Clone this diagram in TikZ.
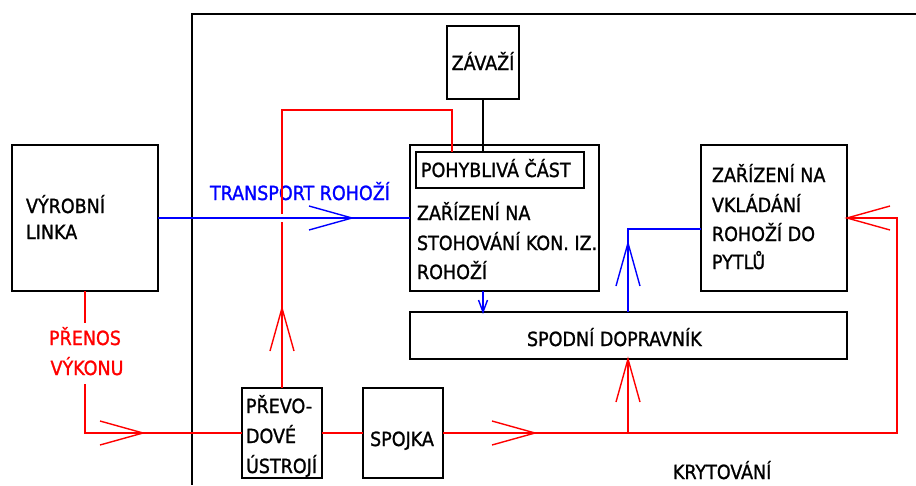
\documentclass[tikz,border=0pt]{standalone}
\usepackage{fontspec}
\setmainfont{DejaVu Sans Condensed}[FakeBold=1.2]
\begin{document}
\begin{tikzpicture}[x=1pt,y=-1pt,
 box/.style={draw=black,line width=1.6pt,inner sep=0pt,outer sep=0pt},
 txt/.style={inner sep=0pt,outer sep=0pt,font=\fontsize{19.5}{22}\selectfont,anchor=base west},
 rline/.style={red,line width=1.4pt},
 bline/.style={blue,line width=1.4pt},
 frame/.style={black,line width=1.6pt},
 chev/.pic={\draw (-43,-12) -- (0,0) -- (-43,12);},
 schev/.pic={\draw (-12,-4.5) -- (0,0) -- (-12,4.5);},
]
\useasboundingbox (0,0) rectangle (916,485);

% outer frame (krytovani)
\coordinate (f0) at (192,14);
\coordinate (f1) at (916,14);
\coordinate (f2) at (192,485);
\draw[frame] (f1) -- (f0) -- (f2);

% boxes
\node[box,minimum width=146pt,minimum height=146pt] (vl) at (85,218) {};
\node[box,minimum width=72pt,minimum height=73pt] (zav) at (483,62.5) {};
\node[box,minimum width=189pt,minimum height=146pt] (stoh) at (504.5,218) {};
\node[box,minimum width=168pt,minimum height=36pt] (poh) at (500,170) {};
\node[box,minimum width=146pt,minimum height=146pt] (vkl) at (774,218) {};
\node[box,minimum width=437pt,minimum height=47pt] (spod) at (628.5,335.5) {};
\node[box,minimum width=80pt,minimum height=90pt] (prev) at (282,433) {};
\node[box,minimum width=80pt,minimum height=90pt] (spoj) at (403,433) {};

% texts
\node[txt] (t1) at (26,213) {VÝROBNÍ};
\node[txt] (t2) at (26,239) {LINKA};
\node[txt,anchor=base] (t3) at (483,70) {ZÁVAŽÍ};
\node[txt] (t4) at (421,177) {POHYBLIVÁ ČÁST};
\node[txt] (t5) at (417,220) {ZAŘÍZENÍ NA};
\node[txt] (t6) at (417,250) {STOHOVÁNÍ KON. IZ.};
\node[txt] (t7) at (417,279) {ROHOŽÍ};
\node[txt] (t8) at (712,182) {ZAŘÍZENÍ NA};
\node[txt] (t9) at (712,212) {VKLÁDÁNÍ};
\node[txt] (t10) at (712,241) {ROHOŽÍ DO};
\node[txt] (t11) at (712,269) {PYTLŮ};
\node[txt] (t12) at (527,346) {SPODNÍ DOPRAVNÍK};
\node[txt] (t13) at (246,413) {PŘEVO-};
\node[txt] (t14) at (246,443) {DOVÉ};
\node[txt] (t15) at (246,473) {ÚSTROJÍ};
\node[txt,anchor=base] (t16) at (402,446) {SPOJKA};
\node[txt,blue] (t17) at (210,200) {TRANSPORT ROHOŽÍ};
\node[txt,red,anchor=base] (t18) at (85,345) {PŘENOS};
\node[txt,red,anchor=base] (t19) at (87,375) {VÝKONU};
\node[txt] (t20) at (673,479) {KRYTOVÁNÍ};

% black link zavazi - pohybliva cast
\draw[frame,line width=1.4pt] (zav.south) -- (zav.south |- poh.north);

% blue: transport
\draw[bline] (vl.east) -- (stoh.west);
\pic[bline] at (352,218) {chev};
\draw[bline] (zav.south |- stoh.south) -- (zav.south |- spod.north);
\pic[bline,rotate=-90] at (zav.south |- spod.north) {schev};
\coordinate (bc) at (628,229);
\draw[bline] (bc |- spod.north) -- (bc) -- (bc -| vkl.west);
\pic[bline,rotate=90] at (628,243) {chev};

% red: power
\coordinate (pa) at (85,323);
\coordinate (pb) at (85,384);
\draw[rline] (vl.south) -- (pa);
\draw[rline] (pb) -- (pb |- prev.west) -- (prev.west);
\pic[rline] at (143,433) {chev};
\draw[rline] (prev.east) -- (spoj.west);
\coordinate (rr) at (897,433);
\draw[rline] (spoj.east) -- (rr) -- (rr |- vkl.east) -- (vkl.east);
\pic[rline] at (535,433) {chev};
\pic[rline,rotate=180] at (vkl.east) {chev};
\coordinate (rj) at (628,433);
\draw[rline] (rj) -- (rj |- spod.south);
\pic[rline,rotate=90] at (rj |- spod.south) {chev};
\coordinate (gapA) at (282,222);
\coordinate (gapB) at (282,214);
\coordinate (rtop) at (282,110);
\coordinate (rcorner) at (452,110);
\draw[rline] (prev.north) -- (gapA);
\draw[rline] (gapB) -- (rtop) -- (rcorner) -- (rcorner |- poh.north);
\pic[rline,rotate=90] at (282,308) {chev};
\end{tikzpicture}
\end{document}
